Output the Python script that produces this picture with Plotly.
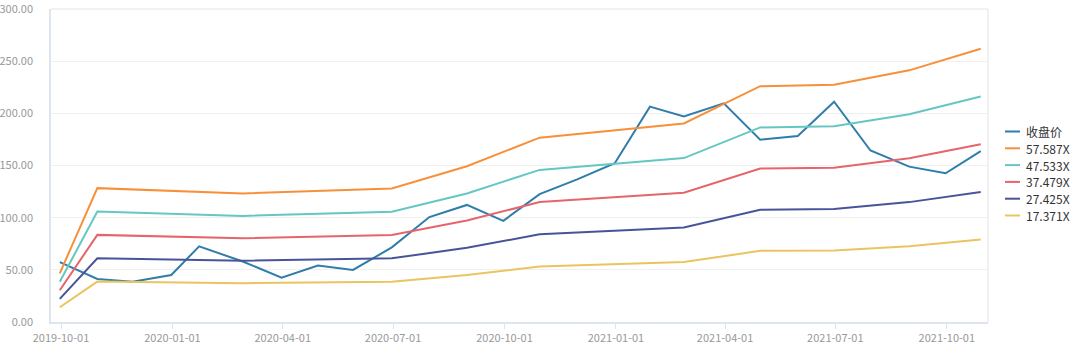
import plotly.graph_objects as go

# ---- data ----
close_dates = ["2019-09-30", "2019-10-31", "2019-11-29", "2019-12-31", "2020-01-23",
               "2020-02-28", "2020-03-31", "2020-04-30", "2020-05-29", "2020-06-30",
               "2020-07-31", "2020-08-31", "2020-09-30", "2020-10-30", "2020-11-30",
               "2020-12-31", "2021-01-29", "2021-02-26", "2021-03-31", "2021-04-30",
               "2021-05-31", "2021-06-30", "2021-07-30", "2021-08-31", "2021-09-30",
               "2021-10-29"]
close_price = [57.4, 41.2, 38.6, 45.1, 72.5, 58.0, 42.5, 54.1, 49.9, 71.5,
               100.6, 112.2, 97.0, 122.5, 136.7, 152.2, 206.4, 197.0, 209.6, 174.8,
               178.3, 211.2, 164.4, 148.9, 142.5, 163.8]

band_dates = ["2019-09-30", "2019-10-31", "2020-02-28", "2020-06-30", "2020-08-31",
              "2020-10-30", "2021-02-26", "2021-04-30", "2021-06-30", "2021-08-31",
              "2021-10-29"]
pe_57_587 = [46.7, 128.3, 123.2, 128.0, 149.3, 176.7, 190.3, 226.0, 227.3, 241.2, 261.9]
pe_47_533 = [38.5, 105.9, 101.7, 105.7, 123.2, 145.8, 157.1, 186.5, 187.6, 199.1, 216.2]
pe_37_479 = [30.4, 83.5, 80.2, 83.3, 97.2, 115.0, 123.9, 147.1, 147.9, 157.0, 170.4]
pe_27_425 = [22.2, 61.1, 58.7, 61.0, 71.1, 84.1, 90.6, 107.6, 108.2, 114.9, 124.7]
pe_17_371 = [14.1, 38.7, 37.2, 38.6, 45.0, 53.3, 57.4, 68.2, 68.6, 72.7, 79.0]

series_names = ["收盘价", "57.587X", "47.533X", "37.479X", "27.425X", "17.371X"]
x_tick_vals = ["2019-10-01", "2020-01-01", "2020-04-01", "2020-07-01", "2020-10-01",
               "2021-01-01", "2021-04-01", "2021-07-01", "2021-10-01"]
y_tick_vals = [0, 50, 100, 150, 200, 250, 300]

# ---- styling ----
colors = ["#2f7dab", "#f7903a", "#66c6c1", "#e6646b", "#48549a", "#ebc45f"]
W, H = 1080, 360
ML, MR, MT, MB = 51, 92, 9, 38
FONT = "Noto Sans CJK SC, Noto Sans, sans-serif"

fig = go.Figure()
series = [(close_dates, close_price)] + [(band_dates, s) for s in
                                         [pe_57_587, pe_47_533, pe_37_479, pe_27_425, pe_17_371]]
for name, (xs, ys), c in zip(series_names, series, colors):
    fig.add_trace(go.Scatter(x=xs, y=ys, name=name, mode="lines",
                             line=dict(color=c, width=2), showlegend=False))

# custom legend (short line symbols, tight spacing like the reference)
plot_w = W - ML - MR
plot_h = H - MT - MB
def px_to_paper(px, py):
    return (px - ML) / plot_w, (H - MB - py) / plot_h

shapes = []
annotations = []
for i, (name, c) in enumerate(zip(series_names, colors)):
    cy = 131.5 + i * 16.8
    x0, y0 = px_to_paper(1005, cy)
    x1, _ = px_to_paper(1020, cy)
    shapes.append(dict(type="line", xref="paper", yref="paper", x0=x0, x1=x1, y0=y0, y1=y0,
                       line=dict(color=c, width=2)))
    tx, _ = px_to_paper(1024, cy)
    annotations.append(dict(xref="paper", yref="paper", x=tx, y=y0, text=name,
                            showarrow=False, xanchor="left", yanchor="middle",
                            font=dict(size=12, color="#333333", family=FONT)))

# top and right frame lines (gray)
shapes.append(dict(type="line", xref="paper", yref="paper", x0=0, x1=1, y0=1, y1=1,
                   line=dict(color="#e3e3e3", width=1), layer="below"))
shapes.append(dict(type="line", xref="paper", yref="paper", x0=1, x1=1, y0=0, y1=1,
                   line=dict(color="#e3e3e3", width=1), layer="below"))

fig.update_layout(
    width=W, height=H,
    margin=dict(l=ML, r=MR, t=MT, b=MB, autoexpand=False),
    paper_bgcolor="white", plot_bgcolor="white",
    font=dict(family=FONT, size=11, color="#999999"),
    shapes=shapes, annotations=annotations,
    showlegend=False,
)
fig.update_xaxes(
    type="date", range=["2019-09-22 18:00", "2021-11-04"],
    tickvals=x_tick_vals, ticktext=x_tick_vals,
    showgrid=False, zeroline=False, automargin=False,
    showline=True, linecolor="#dfe5ef", linewidth=1.5,
    ticks="outside", ticklen=5, tickcolor="#dfe5ef", tickwidth=1,
    tickfont=dict(size=11, color="#999999"),
)
fig.update_yaxes(
    range=[0, 300], tickvals=y_tick_vals, tickformat=".2f",
    showgrid=True, gridcolor="#f0f0f0", gridwidth=1, zeroline=False, automargin=False,
    showline=True, linecolor="#dfe5ef", linewidth=1.5,
    ticks="", ticklabelstandoff=14, ticklabeloverflow="allow",
    tickfont=dict(size=11, color="#999999"),
)

fig.write_html("out.html", config={"displayModeBar": False},
               post_script="document.body.style.margin='0px';")
